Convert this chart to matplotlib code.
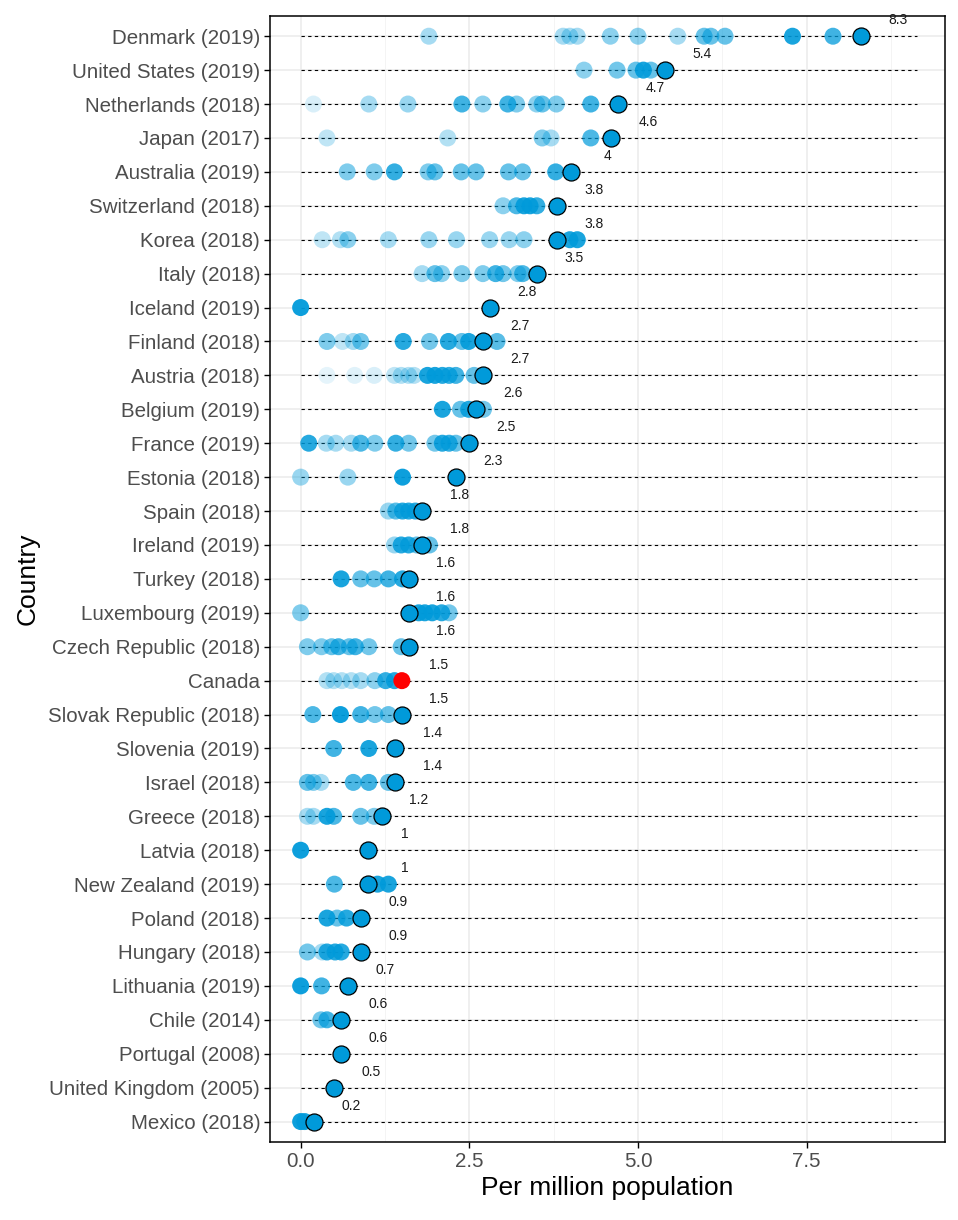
import matplotlib

matplotlib.use("Agg")
import matplotlib.pyplot as plt

plt.rcParams["font.family"] = ["Liberation Sans", "DejaVu Sans"]

BLUE = "#009ADA"

countries = [
    "Denmark (2019)", "United States (2019)", "Netherlands (2018)", "Japan (2017)",
    "Australia (2019)", "Switzerland (2018)", "Korea (2018)", "Italy (2018)",
    "Iceland (2019)", "Finland (2018)", "Austria (2018)", "Belgium (2019)",
    "France (2019)", "Estonia (2018)", "Spain (2018)", "Ireland (2019)",
    "Turkey (2018)", "Luxembourg (2019)", "Czech Republic (2018)", "Canada",
    "Slovak Republic (2018)", "Slovenia (2019)", "Israel (2018)", "Greece (2018)",
    "Latvia (2018)", "New Zealand (2019)", "Poland (2018)", "Hungary (2018)",
    "Lithuania (2019)", "Chile (2014)", "Portugal (2008)", "United Kingdom (2005)",
    "Mexico (2018)",
]

latest = [8.3, 5.4, 4.7, 4.6, 4.0, 3.8, 3.8, 3.5, 2.8, 2.7, 2.7, 2.6, 2.5, 2.3,
          1.8, 1.8, 1.6, 1.6, 1.6, 1.5, 1.5, 1.4, 1.4, 1.2, 1.0, 1.0, 0.9, 0.9,
          0.7, 0.6, 0.6, 0.5, 0.2]

# earlier years per country, with their opacity (older years are paler)
history = [
    [1.9, 3.89, 3.99, 4.1, 4.59, 5.0, 5.59, 5.98, 6.08, 6.29, 7.29, 7.89],
    [4.2, 4.69, 4.97, 5.08, 5.19],
    [0.19, 1.01, 1.59, 2.39, 2.7, 3.07, 3.2, 3.5, 3.58, 3.79, 4.3],
    [0.39, 2.18, 3.58, 3.71, 4.3],
    [0.69, 1.09, 1.39, 1.89, 1.99, 2.38, 2.6, 3.08, 3.29, 3.78],
    [3.0, 3.2, 3.31, 3.4, 3.5],
    [0.32, 0.59, 0.7, 1.3, 1.9, 2.31, 2.8, 3.09, 3.31, 3.99, 4.1],
    [1.8, 1.99, 2.09, 2.39, 2.7, 2.89, 3.0, 3.22, 3.29],
    [0.0],
    [0.39, 0.62, 0.78, 0.89, 1.52, 1.91, 2.19, 2.39, 2.49, 2.91],
    [0.39, 0.8, 1.09, 1.39, 1.49, 1.6, 1.68, 1.88, 1.99, 2.1, 2.2, 2.3, 2.57],
    [2.1, 2.37, 2.49, 2.71],
    [0.12, 0.38, 0.52, 0.75, 0.89, 1.1, 1.41, 1.6, 1.99, 2.1, 2.2, 2.3],
    [0.0, 0.7, 1.51],
    [1.3, 1.41, 1.51, 1.6, 1.7],
    [1.39, 1.49, 1.6, 1.72, 1.91],
    [0.6, 0.89, 1.09, 1.3, 1.51],
    [0.0, 1.75, 1.84, 1.95, 2.09, 2.2],
    [0.1, 0.31, 0.46, 0.56, 0.72, 0.81, 1.01, 1.49],
    [0.39, 0.49, 0.61, 0.75, 0.89, 1.1, 1.26, 1.39],
    [0.18, 0.59, 0.89, 1.1, 1.3],
    [0.49, 1.01],
    [0.1, 0.19, 0.3, 0.78, 1.01, 1.3],
    [0.1, 0.19, 0.39, 0.49, 0.89, 1.09],
    [0.0],
    [0.5, 1.14, 1.3],
    [0.39, 0.54, 0.68],
    [0.1, 0.32, 0.39, 0.51, 0.6],
    [0.0, 0.31],
    [0.3, 0.39],
    [],
    [],
    [0.0, 0.06],
]

history_alpha = [
    [0.35, 0.35, 0.35, 0.35, 0.45, 0.45, 0.35, 0.6, 0.6, 0.6, 0.9, 0.75],
    [0.45, 0.55, 0.6, 0.9, 0.6],
    [0.15, 0.35, 0.4, 0.75, 0.45, 0.75, 0.5, 0.45, 0.6, 0.5, 0.75],
    [0.25, 0.3, 0.5, 0.35, 0.7],
    [0.5, 0.5, 0.8, 0.5, 0.6, 0.6, 0.6, 0.6, 0.6, 0.8],
    [0.45, 0.7, 0.9, 0.9, 0.8],
    [0.25, 0.3, 0.45, 0.35, 0.4, 0.4, 0.4, 0.4, 0.45, 0.9, 0.9],
    [0.35, 0.6, 0.45, 0.5, 0.5, 0.75, 0.55, 0.5, 0.7],
    [0.95],
    [0.5, 0.25, 0.35, 0.55, 0.85, 0.55, 0.85, 0.6, 0.9, 0.65],
    [0.1, 0.12, 0.15, 0.25, 0.3, 0.3, 0.3, 0.9, 0.9, 0.85, 0.8, 0.75, 0.6],
    [0.9, 0.6, 0.85, 0.55],
    [0.85, 0.35, 0.35, 0.35, 0.7, 0.5, 0.8, 0.55, 0.55, 0.85, 0.8, 0.6],
    [0.4, 0.4, 0.95],
    [0.4, 0.65, 0.85, 0.85, 0.85],
    [0.4, 0.85, 0.85, 0.6, 0.6],
    [0.9, 0.6, 0.6, 0.75, 0.85],
    [0.5, 0.9, 0.9, 0.9, 0.85, 0.55],
    [0.5, 0.5, 0.6, 0.75, 0.6, 0.75, 0.55, 0.6],
    [0.3, 0.3, 0.3, 0.3, 0.35, 0.45, 0.8, 0.85],
    [0.7, 0.95, 0.75, 0.55, 0.6],
    [0.75, 0.9],
    [0.6, 0.5, 0.35, 0.7, 0.75, 0.6],
    [0.35, 0.35, 0.9, 0.7, 0.6, 0.5],
    [0.95],
    [0.7, 0.9, 0.9],
    [0.9, 0.6, 0.85],
    [0.55, 0.35, 0.85, 0.85, 0.85],
    [0.95, 0.75],
    [0.55, 0.75],
    [],
    [],
    [0.95, 0.9],
]

highlight = "Canada"
line_end = max(latest) * 1.1

fig = plt.figure(figsize=(9.58, 12.2), dpi=100)
ax = fig.add_axes([0.2818, 0.064, 0.7046, 0.923])

rows = range(len(countries))
for i in rows:
    ax.plot([0, line_end], [i, i], ls=(0, (3, 3)), color="black", lw=0.8, zorder=2)
    for v, a in zip(history[i], history_alpha[i]):
        ax.scatter(v, i, s=150, color=BLUE, alpha=a, edgecolors="none", zorder=3)
    if countries[i] == highlight:
        ax.scatter(latest[i], i, s=150, color="red", edgecolors="none", zorder=4)
    else:
        ax.scatter(latest[i], i, s=150, color=BLUE, edgecolors="black",
                   linewidths=0.9, zorder=4)
    ax.text(latest[i] + 0.55, i - 0.47, f"{latest[i]:g}", fontsize=10,
            ha="center", va="center", color="#1a1a1a", zorder=5)

ax.set_yticks(list(rows))
ax.set_yticklabels(countries)
ax.set_ylim(len(countries) - 0.4, -0.6)
ax.set_xlim(-0.455, 9.55)
ax.set_xticks([0, 2.5, 5, 7.5])
ax.set_xticklabels(["0.0", "2.5", "5.0", "7.5"])
ax.set_xticks([1.25, 3.75, 6.25, 8.75], minor=True)

ax.grid(True, which="major", color="#EBEBEB", lw=1.1, zorder=0)
ax.grid(True, which="minor", axis="x", color="#F2F2F2", lw=0.6, zorder=0)
ax.set_axisbelow(True)
for s in ax.spines.values():
    s.set_color("black")
    s.set_linewidth(1.1)
ax.tick_params(axis="both", which="major", length=4, width=1, color="black",
               labelsize=14.8, labelcolor="#4D4D4D", pad=3)
ax.tick_params(axis="both", which="minor", length=0)

ax.set_xlabel("Per million population", fontsize=19, color="black", labelpad=4)
ax.set_ylabel("Country", fontsize=19, color="black", labelpad=6)

fig.savefig("out.png", dpi=100)
